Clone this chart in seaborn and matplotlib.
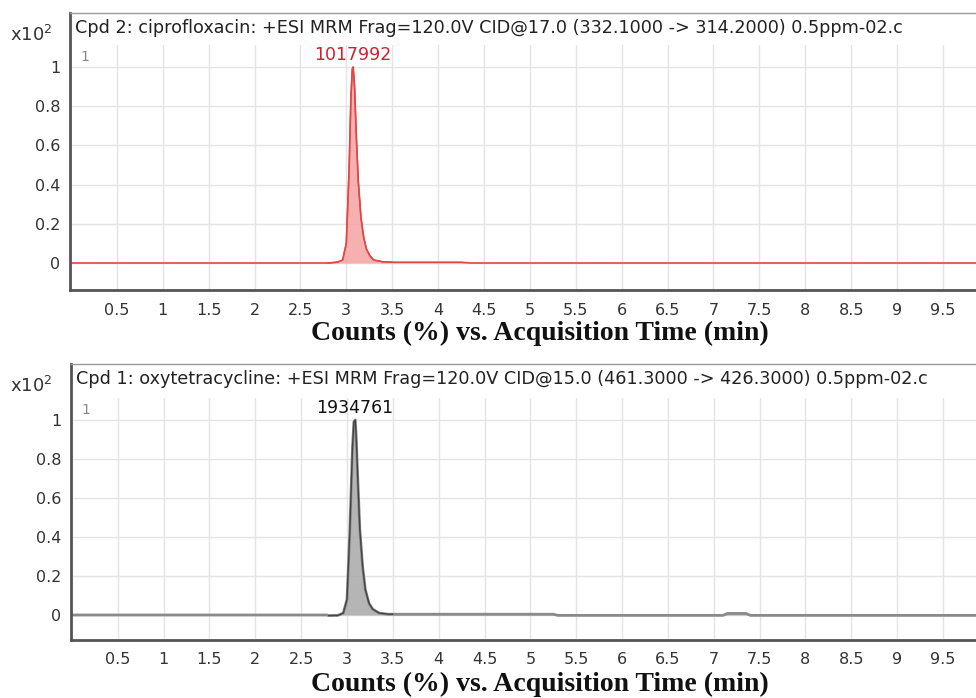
import numpy as np
import pandas as pd
import seaborn as sns
import matplotlib.pyplot as plt
from matplotlib.patches import Rectangle

# chromatogram traces (normalised counts, x10^2 %)
cipro_time = [0.0, 2.80, 2.90, 2.96, 3.00, 3.03, 3.05, 3.065, 3.075, 3.09, 3.11, 3.13, 3.16,
              3.19, 3.22, 3.26, 3.30, 3.40, 3.50, 4.00, 4.25, 4.35, 9.86]
cipro_counts = [0.0, 0.0, 0.004, 0.015, 0.10, 0.47, 0.84, 0.99, 1.00, 0.90, 0.64, 0.42, 0.23,
                0.13, 0.07, 0.035, 0.015, 0.006, 0.004, 0.004, 0.004, 0.0, 0.0]

oxy_time = [0.0, 2.78, 2.80, 2.90, 2.96, 3.00, 3.03, 3.06, 3.075, 3.09, 3.10, 3.12, 3.14, 3.17,
            3.20, 3.24, 3.28, 3.35, 3.45, 3.50, 5.25, 5.30, 7.10, 7.15, 7.35, 7.40, 9.86]
oxy_counts = [0.0, 0.0, -0.003, -0.002, 0.01, 0.08, 0.42, 0.86, 0.99, 1.00, 0.92, 0.67, 0.44, 0.25,
              0.13, 0.06, 0.03, 0.01, 0.004, 0.004, 0.004, -0.002, -0.002, 0.008, 0.008, -0.002, -0.002]

titles = ["Cpd 2: ciprofloxacin: +ESI MRM Frag=120.0V CID@17.0 (332.1000 -> 314.2000) 0.5ppm-02.c",
          "Cpd 1: oxytetracycline: +ESI MRM Frag=120.0V CID@15.0 (461.3000 -> 426.3000) 0.5ppm-02.c"]
peak_labels = ["1017992", "1934761"]
peak_times = [3.07, 3.08]

x_ticks = [0.5, 1, 1.5, 2, 2.5, 3, 3.5, 4, 4.5, 5, 5.5, 6, 6.5, 7, 7.5, 8, 8.5, 9, 9.5]
x_ticklabels = ["0.5", "1", "1.5", "2", "2.5", "3", "3.5", "4", "4.5", "5", "5.5",
                "6", "6.5", "7", "7.5", "8", "8.5", "9", "9.5"]
y_ticks = [0, 0.2, 0.4, 0.6, 0.8, 1]
y_ticklabels = ["0", "0.2", "0.4", "0.6", "0.8", "1"]

sns.set_style("white")
plt.rcParams['font.family'] = ['DejaVu Sans']

fig = plt.figure(figsize=(9.76, 6.98), dpi=100)
W, H = 976, 698

# (left px, top px, bottom px, y of value 0, y of value 1, y where grid starts)
panels = [
    dict(left=70, top=13, bottom=290, y0=263, y1=67, gridtop=45, xlab=333,
         t=cipro_time, c=cipro_counts, line="#e04848", fill="#f5a3a3", lw=1.2,
         lab="#d02030", edge="#e04848"),
    dict(left=71, top=364, bottom=640, y0=615, y1=420, gridtop=398, xlab=684,
         t=oxy_time, c=oxy_counts, line="#8a8a8a", fill="#a8a8a8", lw=2.0,
         lab="#111111", edge="#444444"),
]

for i, p in enumerate(panels):
    ax = fig.add_axes([p["left"] / W, 1 - p["bottom"] / H,
                       1 - p["left"] / W, (p["bottom"] - p["top"]) / H])
    scale = p["y0"] - p["y1"]
    ymax = (p["y0"] - p["top"]) / scale
    ymin = -(p["bottom"] - p["y0"]) / scale
    height = p["bottom"] - p["top"]

    df = pd.DataFrame({"time": p["t"], "counts": p["c"]})
    ax.fill_between(df["time"], df["counts"], 0, color=p["fill"], alpha=0.85,
                    lw=0, zorder=2)
    # peak outline
    peak = df[(df["time"] >= 2.8) & (df["time"] <= 3.5)]
    sns.lineplot(data=peak, x="time", y="counts", ax=ax, color=p["edge"],
                 lw=1.0, zorder=3, estimator=None, sort=False)
    sns.lineplot(data=df, x="time", y="counts", ax=ax, color=p["line"],
                 lw=p["lw"], zorder=2.5, estimator=None, sort=False)

    ax.set_xlim(-0.01, 9.86)
    ax.set_ylim(ymin, ymax)
    ax.set_xticks(x_ticks)
    ax.set_xticklabels(x_ticklabels)
    ax.set_yticks(y_ticks)
    ax.set_yticklabels(y_ticklabels)
    ax.grid(True, color="#e4e4e4", lw=1)
    ax.set_axisbelow(True)

    # blank title band above the grid
    band = (p["bottom"] - p["gridtop"]) / height
    ax.add_patch(Rectangle((0, band), 1, 1 - band, transform=ax.transAxes,
                           facecolor="white", edgecolor="none", zorder=1))

    for side in ["left", "bottom"]:
        ax.spines[side].set_color("#555555")
        ax.spines[side].set_linewidth(2)
    ax.spines["top"].set_color("#999999")
    ax.spines["top"].set_linewidth(1)
    ax.spines["right"].set_visible(False)
    ax.tick_params(axis="both", direction="out", length=4, width=1,
                   color="#555555", labelcolor="#333333", labelsize=11.5, pad=3)
    ax.tick_params(axis="x", pad=5)

    ax.set_xlabel("Counts (%) vs. Acquisition Time (min)", family="Liberation Serif",
                  fontweight="bold", fontsize=20, color="#111111")
    ax.xaxis.set_label_coords((540 - p["left"]) / (W - p["left"]),
                              -(p["xlab"] - p["bottom"]) / height)
    ax.xaxis.label.set_va("center")
    ax.set_ylabel("")

    ax.text(0.006, 1 - 15 / height, titles[i], transform=ax.transAxes,
            fontsize=12.7, color="#222222", va="center", ha="left", zorder=5)
    ax.text(0.011, (p["y0"] - p["y1"] + 10) / scale, "1",
            fontsize=10, color="#888888", va="center", ha="left",
            transform=ax.get_yaxis_transform(), zorder=5)
    ax.text(peak_times[i], 1.015, peak_labels[i], color=p["lab"], fontsize=12.5,
            ha="center", va="bottom", zorder=5)
    fig.text(10 / W, 1 - (p["top"] + 22) / H, r"x10$^{2}$", fontsize=13,
             color="#333333", ha="left", va="center")

fig.savefig("out.png", dpi=100)
